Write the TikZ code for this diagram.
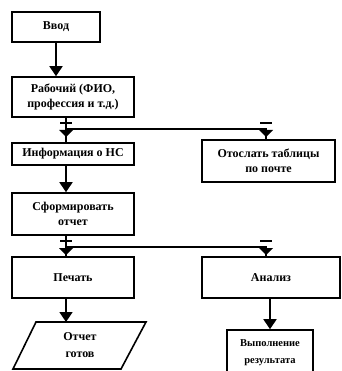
\documentclass[tikz,border=0pt]{standalone}
\usepackage{fontspec}
\setmainfont{Liberation Serif}
\usetikzlibrary{arrows.meta}
\begin{document}
\begin{tikzpicture}[x=1pt,y=-1pt,
  box/.style={draw,line width=1.6pt,align=center,inner sep=1pt,font=\bfseries\fontsize{12}{15}\selectfont},
  conn/.style={line width=1.8pt,-{Triangle[width=13pt,length=10pt]}},
  wire/.style={line width=1.6pt},
  branchmark/.style={fill=black}]
\useasboundingbox (0,0) rectangle (341,371);
\clip (0,0) rectangle (341,371);
\node[box,minimum width=88pt,minimum height=30pt] (vvod) at (56,27) {Ввод};
\node[box,minimum width=122pt,minimum height=40pt] (rab) at (73,97) {Рабочий (ФИО,\\профессия и т.д.)};
\node[box,minimum width=122pt,minimum height=22pt] (info) at (73,154) {Информация о НС};
\node[box,minimum width=133pt,minimum height=42pt] (otos) at (268.5,161) {Отослать таблицы\\по почте};
\node[box,minimum width=122pt,minimum height=42pt] (sform) at (73,214) {Сформировать\\отчет};
\node[box,minimum width=122pt,minimum height=41pt] (pech) at (73,277.5) {Печать};
\node[box,minimum width=138pt,minimum height=41pt] (anal) at (271,277.5) {Анализ};
\node[box,minimum width=86pt,minimum height=46pt,font=\bfseries\fontsize{10.5}{17}\selectfont] (vyp) at (270,353) {Выполнение\\результата};
\node[align=center,font=\bfseries\fontsize{12}{17}\selectfont] (gotov) at (80,345) {Отчет\\готов};
\coordinate (p1) at (36,322);
\coordinate (p2) at (146,322);
\coordinate (p3) at (121,369);
\coordinate (p4) at (13,369);
\draw[line width=1.6pt] (p1) -- (p2) -- (p3) -- (p4) -- cycle;
\coordinate (L) at (66,0);
\coordinate (R) at (266,0);
\coordinate (b1) at (66,129);
\coordinate (b1r) at (266,129);
\coordinate (b2) at (66,247);
\coordinate (b2r) at (266,247);
% connectors
\draw[conn] (vvod.south) -- (vvod.south |- rab.north);
\draw[wire] (rab.south -| L) -- (info.north -| L);
\draw[wire] (b1) -- (b1r) -- (otos.north -| R);
\draw[conn] (info.south -| L) -- (sform.north -| L);
\draw[wire] (sform.south -| L) -- (pech.north -| L);
\draw[wire] (b2) -- (b2r) -- (anal.north -| R);
\draw[conn] (pech.south -| L) -- (p1 -| L);
\draw[conn] (anal.south -| vyp) -- (vyp.north);
% branch marks
\foreach \p in {b1,b1r,b2,b2r}{
  \fill[branchmark] ([xshift=-6pt,yshift=5pt]\p) rectangle ([xshift=6pt,yshift=7pt]\p);
  \fill[branchmark] ([xshift=-7pt,yshift=-1pt]\p) -- ([xshift=7pt,yshift=-1pt]\p) -- ([yshift=-8pt]\p) -- cycle;
}
\end{tikzpicture}
\end{document}
